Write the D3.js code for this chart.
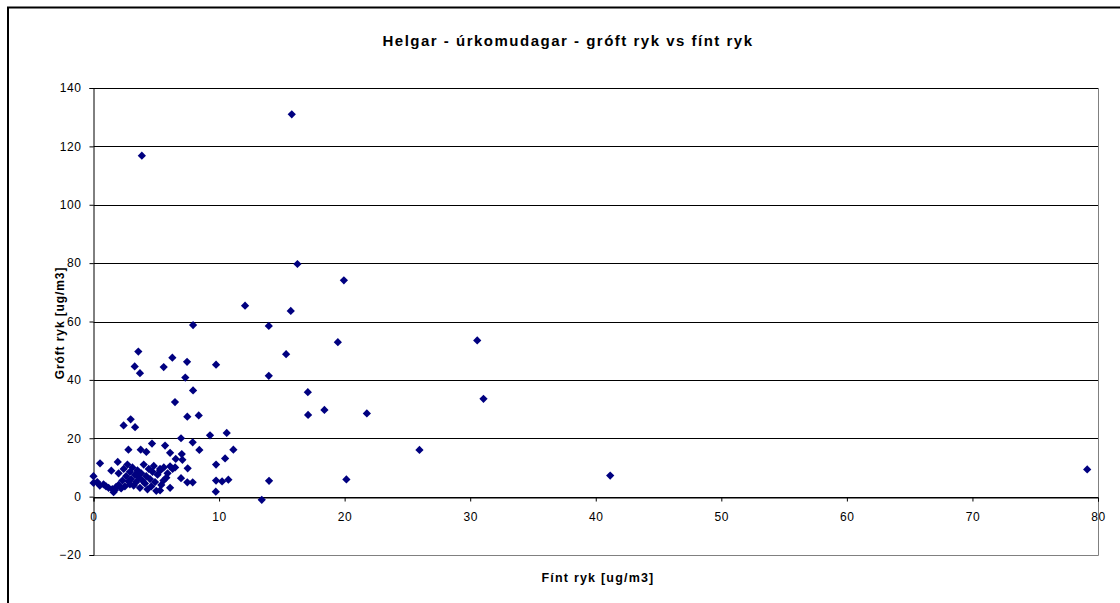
<!DOCTYPE html>
<html>
<head>
<meta charset="utf-8">
<script src="https://cdn.jsdelivr.net/npm/d3@7"></script>
<style>
  body { margin: 0; background: #fff; }
  svg { display: block; font-family: "Liberation Sans", Arial, sans-serif; }
</style>
</head>
<body>
<svg id="chart" width="1120" height="603"></svg>
<script>
//chart texts
var chartTitle = 'Helgar - úrkomudagar - gróft ryk vs fínt ryk';
var xTitle = 'Fínt ryk [ug/m3]';
var yTitle = 'Gróft ryk [ug/m3]';

//tick values
var xTicks = [0, 10, 20, 30, 40, 50, 60, 70, 80];
var yTicks = [-20, 0, 20, 40, 60, 80, 100, 120, 140];

//fine dust (x) and coarse dust (y)
var finePM = [
	15.79, 3.85, 16.24, 19.94, 12.07, 15.71, 13.96, 7.93, 19.46, 30.56,
	15.34, 3.57, 6.28, 7.45, 3.28, 5.59, 9.76, 3.70, 13.96, 7.31,
	17.07, 7.93, 31.06, 6.49, 18.39, 17.09, 21.77, 7.47, 8.38, 2.96,
	2.40, 3.31, 9.28, 10.61, 6.97, 4.66, 5.70, 7.90, 8.43, 11.14,
	2.78, 3.76, 4.21, 6.10, 7.03, 25.96, 6.55, 7.08, 10.48, 9.76,
	6.10, 7.50, 5.30, 0.52, 1.93, 1.42, 5.57, 6.97, 7.47, 7.90,
	9.76, 10.24, 10.74, 13.98, 20.14, 41.15, 79.14, 9.74, 6.10, 5.30,
	13.40,
	0.00, 0.00, 0.30, 0.50, 0.80, 1.00, 1.20, 1.50, 1.60, 1.70,
	1.80, 2.00, 2.00, 2.20, 2.30, 2.40, 2.50, 2.60, 2.70, 2.80,
	2.90, 2.90, 3.00, 3.10, 3.20, 3.30, 3.40, 3.50, 3.60, 3.70,
	3.80, 3.90, 4.00, 4.10, 4.20, 4.30, 4.40, 4.50, 4.60, 4.70,
	4.80, 4.90, 5.00, 5.10, 5.30, 5.40, 5.60, 5.80, 5.90, 6.30,
	6.50
];
var coarsePM = [
	131.0, 116.8, 79.7, 74.1, 65.4, 63.6, 58.5, 58.8, 52.9, 53.5,
	48.8, 49.7, 47.6, 46.2, 44.6, 44.4, 45.2, 42.3, 41.4, 40.8,
	35.8, 36.4, 33.5, 32.4, 29.7, 28.0, 28.5, 27.4, 27.8, 26.5,
	24.4, 23.8, 21.0, 21.8, 20.0, 18.2, 17.5, 18.6, 16.0, 16.1,
	16.1, 16.1, 15.3, 15.0, 14.6, 16.0, 12.9, 12.6, 13.1, 11.0,
	10.4, 9.7, 8.9, 11.4, 11.9, 8.9, 5.5, 6.3, 4.9, 4.9,
	5.5, 5.2, 5.8, 5.4, 5.9, 7.2, 9.3, 1.7, 3.0, 2.1,
	-1.1,
	7.0, 4.7, 5.0, 3.8, 4.2, 3.5, 3.0, 2.6, 1.5, 2.2,
	3.3, 4.0, 8.0, 2.8, 5.5, 9.5, 3.5, 7.0, 11.0, 5.2,
	4.2, 8.5, 6.0, 10.0, 3.8, 7.5, 5.0, 9.0, 6.5, 3.0,
	8.0, 5.5, 11.0, 4.5, 7.0, 2.5, 9.5, 6.0, 3.5, 8.5,
	10.5, 5.0, 2.0, 7.5, 9.5, 4.0, 10.0, 6.5, 8.0, 9.5,
	10.0
];

var svg = d3.select('#chart');

//outer chart frame
svg.append('rect')
	.attr('x', 8)
	.attr('y', 7.5)
	.attr('width', 1130)
	.attr('height', 620)
	.style('fill', 'none')
	.style('stroke', 'black')
	.style('stroke-width', 2);

//plot area
var plotLeft = 93.5, plotRight = 1098, plotTop = 88, plotBottom = 555;

var xScale = d3.scaleLinear().domain([0, 80]).range([plotLeft, plotRight]);
var yScale = d3.scaleLinear().domain([-20, 140]).range([plotBottom, plotTop]);

//gridlines
svg.append('g')
	.selectAll('line')
	.data(yTicks.filter(d => d > -20))
	.join('line')
	.attr('x1', plotLeft)
	.attr('x2', plotRight)
	.attr('y1', d => Math.round(yScale(d)) + 0.5)
	.attr('y2', d => Math.round(yScale(d)) + 0.5)
	.style('stroke', 'black')
	.style('stroke-width', 1);

//plot border right and bottom
svg.append('path')
	.attr('d', `M${plotLeft},${plotBottom + 0.5}H${plotRight + 0.5}V${plotTop}`)
	.style('fill', 'none')
	.style('stroke', '#808080')
	.style('stroke-width', 1);

//y axis
var yAxis = svg.append('g')
	.attr('transform', `translate(${plotLeft},0)`)
	.call(d3.axisLeft(yScale).tickValues(yTicks).tickSize(4).tickPadding(8).tickFormat(d3.format('d')));
yAxis.select('.domain').style('stroke', 'black');
yAxis.selectAll('text').style('font-size', '12px').style('letter-spacing', '0.6px').style('fill', '#000');

//x axis at y = 0
var xAxis = svg.append('g')
	.attr('transform', `translate(0,${Math.round(yScale(0)) + 0.5})`)
	.call(d3.axisBottom(xScale).tickValues(xTicks).tickSize(4).tickPadding(11).tickFormat(d3.format('d')));
xAxis.select('.domain').style('stroke', 'black');
xAxis.selectAll('text').style('font-size', '12px').style('letter-spacing', '0.6px').style('fill', '#000');

//points
var points = finePM.map((x, i) => ({x: x, y: coarsePM[i]}));
var diamond = d3.symbol().type(d3.symbolSquare).size(34);
svg.append('g')
	.selectAll('path')
	.data(points)
	.join('path')
	.attr('d', diamond)
	.attr('transform', d => `translate(${xScale(d.x)},${yScale(d.y)}) rotate(45)`)
	.style('fill', '#000080');

//titles
svg.append('text')
	.attr('x', 568)
	.attr('y', 46)
	.style('text-anchor', 'middle')
	.style('font-size', '15px')
	.style('font-weight', 'bold')
	.style('letter-spacing', '1.5px')
	.text(chartTitle);

svg.append('text')
	.attr('x', 598)
	.attr('y', 582)
	.style('text-anchor', 'middle')
	.style('font-size', '12.5px')
	.style('font-weight', 'bold')
	.style('letter-spacing', '1.2px')
	.text(xTitle);

svg.append('text')
	.attr('transform', `translate(64,323) rotate(-90)`)
	.style('text-anchor', 'middle')
	.style('font-size', '12px')
	.style('font-weight', 'bold')
	.style('letter-spacing', '0.9px')
	.text(yTitle);
</script>
</body>
</html>
